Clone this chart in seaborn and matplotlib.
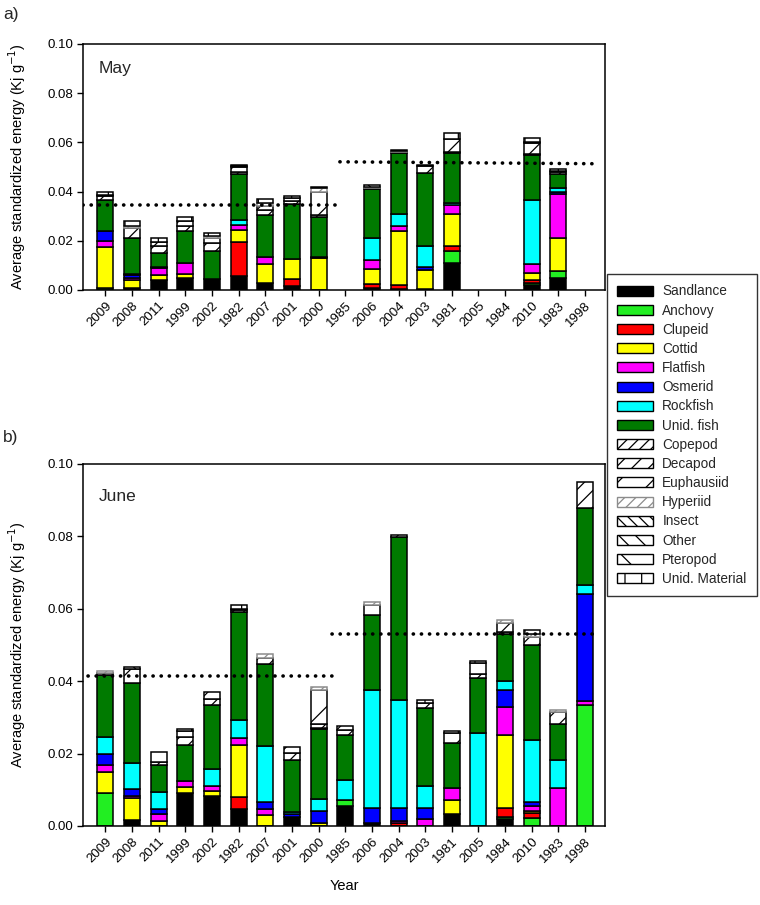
import numpy as np
import matplotlib
matplotlib.use('Agg')
import matplotlib.pyplot as plt
from matplotlib.patches import Patch
import seaborn as sns

# 設定
sns.set_theme(style='ticks')
plt.rcParams['font.family'] = ['Liberation Sans', 'DejaVu Sans']
plt.rcParams['hatch.linewidth'] = 0.9

years = ['2009', '2008', '2011', '1999', '2002', '1982', '2007', '2001', '2000', '1985',
         '2006', '2004', '2003', '1981', '2005', '1984', '2010', '1983', '1998']

prey_names = ['Sandlance', 'Anchovy', 'Clupeid', 'Cottid', 'Flatfish', 'Osmerid', 'Rockfish',
              'Unid. fish', 'Copepod', 'Decapod', 'Euphausiid', 'Hyperiid', 'Insect', 'Other',
              'Pteropod', 'Unid. Material']
prey_colors = ['#000000', '#22EE22', '#FF0000', '#FFFF00', '#FF00FF', '#0000FF', '#00FFFF',
               '#007A00', 'white', 'white', 'white', 'white', 'white', 'white', 'white', 'white']
prey_hatches = [None, None, None, None, None, None, None, None,
                '///', '//', '/', '///', '\\\\\\', '\\\\', '\\', '|']

# May (a)
may_sandlance = [0, 0.001, 0.004, 0.005, 0.0045, 0.0055, 0.003, 0.0015, 0, 0, 0.001, 0.0005, 0.0005, 0.011, 0, 0, 0.002, 0.005, 0]
may_anchovy = [0.001, 0, 0, 0, 0, 0, 0, 0, 0, 0, 0, 0, 0, 0.005, 0, 0, 0.001, 0.0028, 0]
may_clupeid = [0, 0, 0, 0, 0, 0.014, 0, 0.003, 0, 0, 0.0015, 0.0015, 0, 0.002, 0, 0, 0.001, 0, 0]
may_cottid = [0.0165, 0.003, 0.002, 0.0015, 0, 0.0048, 0.0075, 0.008, 0.013, 0, 0.006, 0.022, 0.0075, 0.0127, 0, 0, 0.003, 0.0132, 0]
may_flatfish = [0.0025, 0.001, 0.003, 0.0045, 0, 0.002, 0.003, 0, 0.0005, 0, 0.0035, 0.002, 0, 0.0037, 0, 0, 0.0035, 0.018, 0]
may_osmerid = [0.004, 0.001, 0.0005, 0, 0, 0, 0, 0, 0, 0, 0, 0, 0.0015, 0, 0, 0, 0, 0.001, 0]
may_rockfish = [0, 0.0005, 0, 0, 0, 0.002, 0, 0, 0, 0, 0.009, 0.005, 0.0085, 0.0011, 0, 0, 0.026, 0.0015, 0]
may_unid_fish = [0.0125, 0.0145, 0.0055, 0.013, 0.0115, 0.019, 0.017, 0.0225, 0.016, 0, 0.02, 0.0245, 0.0295, 0.0202, 0, 0, 0.0183, 0.0055, 0]
may_copepod = [0, 0, 0, 0, 0, 0.0005, 0, 0, 0.0008, 0, 0.0005, 0.0005, 0, 0.0005, 0, 0, 0.0003, 0, 0]
may_decapod = [0, 0, 0.003, 0.002, 0.003, 0, 0.002, 0.001, 0, 0, 0, 0, 0, 0, 0, 0, 0.0045, 0.001, 0]
may_euphausiid = [0.0015, 0.004, 0.0015, 0.002, 0.002, 0.002, 0.0015, 0.0015, 0.0097, 0, 0, 0, 0.003, 0.005, 0, 0, 0, 0, 0]
may_hyperiid = [0, 0.001, 0, 0, 0.001, 0, 0.0015, 0, 0.0015, 0, 0.0005, 0.0005, 0, 0, 0, 0, 0, 0, 0]
may_insect = [0] * 19
may_other = [0.0005, 0, 0, 0, 0, 0.0005, 0, 0, 0.0005, 0, 0.0005, 0, 0, 0, 0, 0, 0.0005, 0.0005, 0]
may_pteropod = [0] * 19
may_unid_material = [0.0015, 0.002, 0.0015, 0.0015, 0.001, 0.0005, 0.0015, 0.0005, 0, 0, 0, 0.0005, 0.0005, 0.0025, 0, 0, 0.0018, 0.0005, 0]

# June (b)
jun_sandlance = [0, 0.0016, 0, 0.009, 0.0083, 0.0048, 0, 0.0025, 0, 0.0055, 0.0007, 0, 0, 0.0032, 0, 0.002, 0, 0, 0]
jun_anchovy = [0.0092, 0, 0, 0, 0, 0, 0, 0, 0, 0.0018, 0, 0, 0, 0, 0, 0.0005, 0.0023, 0, 0.0335]
jun_clupeid = [0, 0, 0, 0, 0, 0.0033, 0, 0, 0, 0, 0, 0.0009, 0, 0, 0, 0.0026, 0.0014, 0, 0]
jun_cottid = [0.0057, 0.0061, 0.0014, 0.0019, 0.0014, 0.0143, 0.0029, 0, 0.0007, 0, 0, 0, 0, 0.004, 0, 0.0201, 0.0005, 0, 0]
jun_flatfish = [0.0019, 0.0006, 0.0018, 0.0014, 0.0013, 0.0018, 0.0019, 0, 0, 0, 0, 0.0006, 0.0018, 0.0034, 0, 0.0077, 0.0013, 0.0106, 0.0011]
jun_osmerid = [0.003, 0.0018, 0.0016, 0, 0, 0, 0.0017, 0.0008, 0.0034, 0, 0.0042, 0.0034, 0.0033, 0, 0, 0.0047, 0.0012, 0, 0.0296]
jun_rockfish = [0.0049, 0.0074, 0.0047, 0, 0.0048, 0.005, 0.0156, 0.0007, 0.0033, 0.0054, 0.0326, 0.0298, 0.006, 0, 0.0258, 0.0025, 0.017, 0.0076, 0.0024]
jun_unid_fish = [0.017, 0.0221, 0.0074, 0.0102, 0.0176, 0.03, 0.0226, 0.0142, 0.0193, 0.0124, 0.0208, 0.045, 0.0216, 0.0123, 0.015, 0.0129, 0.0263, 0.0101, 0.0212]
jun_copepod = [0.0005, 0, 0.0008, 0, 0, 0.0005, 0, 0, 0.0005, 0, 0, 0.0007, 0, 0, 0.0012, 0.0005, 0, 0, 0]
jun_decapod = [0, 0, 0, 0.0022, 0.0017, 0, 0.0018, 0.002, 0.0009, 0.0015, 0, 0, 0.0012, 0, 0, 0.0026, 0.0022, 0.0031, 0.0072]
jun_euphausiid = [0, 0.0039, 0.0028, 0.0015, 0.0018, 0, 0, 0.0016, 0.0094, 0.001, 0.0028, 0, 0, 0.0028, 0.0031, 0, 0, 0, 0]
jun_hyperiid = [0.0006, 0, 0, 0, 0, 0, 0.0009, 0, 0.001, 0, 0.0009, 0, 0, 0, 0, 0.0008, 0.0008, 0.0007, 0]
jun_insect = [0] * 19
jun_other = [0, 0.0005, 0, 0, 0, 0.0003, 0, 0, 0, 0, 0, 0, 0, 0, 0, 0, 0, 0, 0]
jun_pteropod = [0] * 19
jun_unid_material = [0, 0, 0, 0.0005, 0, 0.001, 0, 0, 0, 0, 0, 0, 0.0008, 0.0006, 0.0005, 0, 0.0012, 0, 0]

# 期間平均（点線）: 前半, 後半(始点, 終点)
may_mean_early = [0.0346, 0.0346]
may_mean_late = [0.0521, 0.0513]
jun_mean_early = [0.0413, 0.0413]
jun_mean_late = [0.0530, 0.0530]

may_layers = [may_sandlance, may_anchovy, may_clupeid, may_cottid, may_flatfish, may_osmerid,
              may_rockfish, may_unid_fish, may_copepod, may_decapod, may_euphausiid, may_hyperiid,
              may_insect, may_other, may_pteropod, may_unid_material]
jun_layers = [jun_sandlance, jun_anchovy, jun_clupeid, jun_cottid, jun_flatfish, jun_osmerid,
              jun_rockfish, jun_unid_fish, jun_copepod, jun_decapod, jun_euphausiid, jun_hyperiid,
              jun_insect, jun_other, jun_pteropod, jun_unid_material]


def plot_month(ax, layers, month, early, late, early_span, late_span):
    """積み上げ棒グラフ（1か月分）"""
    bottom = np.zeros(len(years))
    for name, color, hatch, values in zip(prey_names, prey_colors, prey_hatches, layers):
        edge = '0.55' if name == 'Hyperiid' else 'black'
        sns.barplot(x=years, y=values, order=years, bottom=bottom, color=color, saturation=1,
                    hatch=hatch, edgecolor=edge, linewidth=1.1, width=0.6, errorbar=None, ax=ax)
        for patch, v in zip(ax.containers[-1].patches, values):
            if v == 0:
                patch.set_visible(False)
        bottom = bottom + np.array(values)

    dot = dict(color='black', linewidth=2.6, linestyle=(0, (0.05, 2.2)),
               dash_capstyle='round', zorder=5)
    ax.plot(early_span, early, **dot)
    ax.plot(late_span, late, **dot)

    ax.set_xlim(-0.85, 18.75)
    ax.set_ylim(0, 0.10)
    ax.set_yticks(np.arange(0, 0.101, 0.02))
    ax.set_yticklabels([f'{t:.2f}' for t in np.arange(0, 0.101, 0.02)], fontsize=9.5)
    ax.set_xticks(range(len(years)))
    ax.set_xticklabels(years, rotation=45, ha='right', rotation_mode='anchor', fontsize=9.5)
    ax.tick_params(axis='both', direction='out', length=4, width=1, color='black',
                   labelcolor='black', pad=3)
    for sp in ax.spines.values():
        sp.set_visible(True)
        sp.set_color('black')
        sp.set_linewidth(1.1)
    ax.set_xlabel('')
    ax.set_ylabel('Average standardized energy (Kj g$^{-1}$)', fontsize=10.5, color='black')
    ax.yaxis.set_label_coords(-0.105, 0.5)
    ax.text(0.03, 0.93, month, transform=ax.transAxes, fontsize=12.5, va='top', ha='left')


fig = plt.figure(figsize=(7.6, 9.05), dpi=100)
ax1 = fig.add_axes([0.109, 0.6796, 0.687, 0.2718])
ax2 = fig.add_axes([0.109, 0.0873, 0.687, 0.4000])

plot_month(ax1, may_layers, 'May', may_mean_early, may_mean_late, [-0.85, 8.7], [8.8, 18.55])
plot_month(ax2, jun_layers, 'June', jun_mean_early, jun_mean_late, [-0.65, 8.7], [8.5, 18.55])
ax2.set_xlabel('Year', fontsize=10.5, color='black', labelpad=10)

fig.text(0.004, 1 - 15 / 905, 'a)', fontsize=12.5, va='center', ha='left')
fig.text(0.004, 1 - 437 / 905, 'b)', fontsize=12.5, va='center', ha='left')

# 凡例
handles = []
for name, color, hatch in zip(prey_names, prey_colors, prey_hatches):
    edge = '0.55' if name == 'Hyperiid' else 'black'
    handles.append(Patch(facecolor=color, edgecolor=edge, hatch=hatch, linewidth=1.0))
leg = fig.legend(handles, prey_names, loc='upper left', bbox_to_anchor=(0.799, 0.697),
                 fontsize=9.8, frameon=True, fancybox=False, edgecolor='black',
                 handlelength=2.6, handleheight=0.75, labelspacing=0.38, borderpad=0.75,
                 handletextpad=0.7, borderaxespad=0)
leg.get_frame().set_linewidth(1.0)

fig.savefig('out.png', dpi=100)
